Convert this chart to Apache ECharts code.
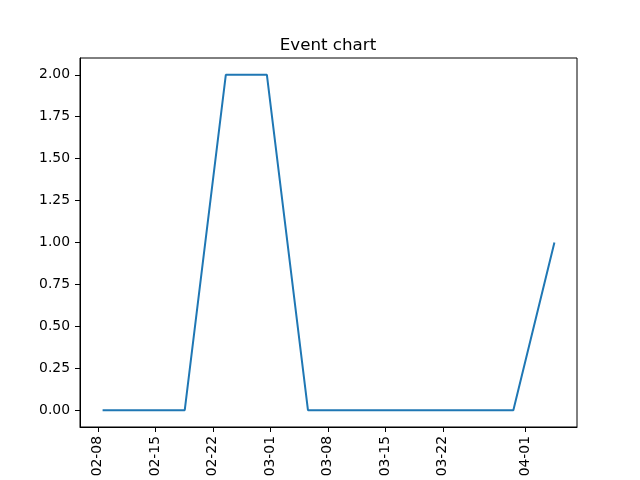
<!DOCTYPE html>
<html>
<head>
<meta charset="utf-8">
<script src="https://cdn.jsdelivr.net/npm/echarts@6/dist/echarts.min.js"></script>
<style>
  html, body { margin: 0; padding: 0; background: #fff; }
  #chart { width: 640px; height: 480px; }
</style>
</head>
<body>
<div id="chart"></div>
<script>
// data (one sample every 5 days)
var dates = ['2021-02-08T14:00Z', '2021-02-13T14:00Z', '2021-02-18T14:00Z', '2021-02-23T14:00Z',
             '2021-02-28T14:00Z', '2021-03-05T14:00Z', '2021-03-10T14:00Z', '2021-03-15T14:00Z',
             '2021-03-20T14:00Z', '2021-03-25T14:00Z', '2021-03-30T14:00Z', '2021-04-04T14:00Z'];
var counts = [0, 0, 0, 2, 2, 0, 0, 0, 0, 0, 0, 1];
var xTickDates = ['2021-02-08', '2021-02-15', '2021-02-22', '2021-03-01',
                  '2021-03-08', '2021-03-15', '2021-03-22', '2021-04-01'];
var yTicks = [0, 0.25, 0.5, 0.75, 1, 1.25, 1.5, 1.75, 2];

var times = dates.map(function (d) { return Date.parse(d); });
var xTicks = xTickDates.map(function (d) { return Date.parse(d + 'T00:00Z'); });
var pad = (times[times.length - 1] - times[0]) * 0.05;

function pad2(n) { return (n < 10 ? '0' : '') + n; }

var font = 'DejaVu Sans';
var chart = echarts.init(document.getElementById('chart'));
chart.setOption({
    animation: false,
    title: {
        text: 'Event chart',
        left: 323,
        top: 32,
        textAlign: 'center',
        textStyle: { fontFamily: font, fontSize: 16.7, fontWeight: 'normal', color: '#000' }
    },
    grid: {
        left: 80, right: 63, top: 58, bottom: 53,
        show: true, borderColor: '#000', borderWidth: 1
    },
    xAxis: {
        type: 'value',
        min: times[0] - pad,
        max: times[times.length - 1] + pad,
        splitLine: { show: false },
        axisLine: { onZero: false, lineStyle: { color: '#000', width: 1 } },
        axisTick: { customValues: xTicks, length: 5, lineStyle: { color: '#000' } },
        axisLabel: {
            customValues: xTicks,
            rotate: 90,
            margin: 9,
            fontFamily: font,
            fontSize: 13.9,
            color: '#000',
            formatter: function (v) {
                var d = new Date(v);
                return pad2(d.getUTCMonth() + 1) + '-' + pad2(d.getUTCDate());
            }
        }
    },
    yAxis: {
        type: 'value',
        min: -0.1,
        max: 2.1,
        splitLine: { show: false },
        axisLine: { show: true, onZero: false, lineStyle: { color: '#000', width: 1 } },
        axisTick: { show: true, customValues: yTicks, length: 5, lineStyle: { color: '#000' } },
        axisLabel: {
            customValues: yTicks,
            margin: 10,
            fontFamily: font,
            fontSize: 13.9,
            color: '#000',
            formatter: function (v) { return v.toFixed(2); }
        }
    },
    series: [{
        type: 'line',
        data: times.map(function (t, i) { return [t, counts[i]]; }),
        showSymbol: false,
        lineStyle: { color: '#1f77b4', width: 2 },
        itemStyle: { color: '#1f77b4' }
    }]
});
</script>
</body>
</html>
